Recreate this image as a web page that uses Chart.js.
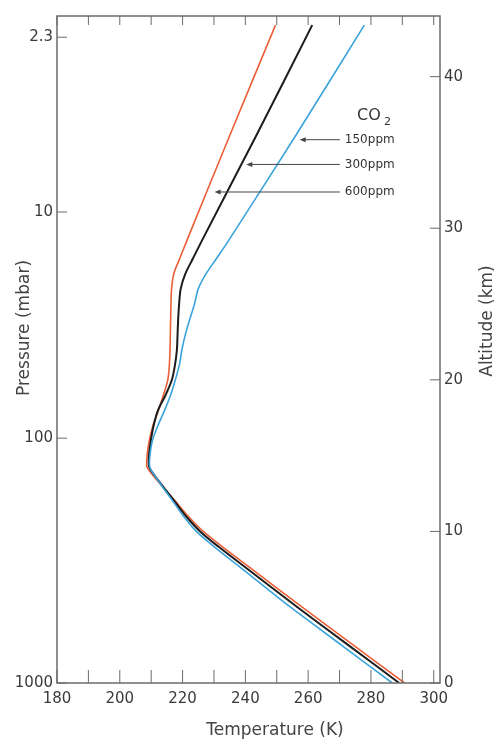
<!DOCTYPE html>
<html>
<head>
<meta charset="utf-8">
<title>Temperature profile vs CO2</title>
<script src="https://cdn.jsdelivr.net/npm/chart.js@4.4.1/dist/chart.umd.min.js"></script>
<style>
  html, body { margin: 0; padding: 0; background: #fff; }
  canvas { display: block; }
</style>
</head>
<body>
<canvas id="chart" width="496" height="739"></canvas>
<script>
// altitude (km) of each profile point, shared by the three runs
const altitude = [0, 2.5, 5, 7.5, 9, 10, 11, 12, 13, 14, 14.3, 15, 16, 17, 18, 19, 20, 21, 22, 23, 24, 25, 26, 27, 28, 29.2, 36, 43.4];

// temperature (K) for each CO2 level
const temp150 = [286.8, 270.6, 254.4, 239.2, 230.0, 224.4, 220.3, 216.9, 213.4, 210.1, 209.5, 209.6, 210.4, 212.2, 214.3, 216.2, 217.7, 219.0, 219.8, 220.9, 222.3, 223.8, 225.0, 227.5, 230.8, 234.7, 255.7, 277.9];
const temp300 = [289.0, 272.8, 256.6, 240.8, 231.4, 225.6, 221.1, 217.4, 213.6, 210.0, 209.3, 209.3, 209.9, 210.8, 212.2, 214.6, 216.6, 217.6, 218.2, 218.4, 218.6, 218.9, 219.4, 220.9, 223.3, 226.2, 243.2, 261.3];
const temp600 = [290.7, 274.4, 258.1, 242.2, 232.6, 226.6, 221.8, 217.7, 213.4, 209.4, 208.6, 208.7, 209.4, 210.6, 212.3, 213.9, 215.3, 215.8, 216.0, 216.1, 216.2, 216.3, 216.5, 217.2, 219.1, 221.4, 234.8, 249.6];

// left axis: pressure labels and the altitude they sit at
const pressureLabels = ["1000", "100", "10", "2.3"];
const pressureAltitude = [0, 16.15, 31.07, 42.6];

// arrow notes pointing at the curves
const noteLabels = ["150ppm", "300ppm", "600ppm"];
const noteAltitude = [35.84, 34.21, 32.39];
const noteTipTemp = [257.3, 240.3, 230.2];

const toPoints = (temps) => temps.map((t, i) => ({ x: t, y: altitude[i] }));

Chart.defaults.font.family = '"DejaVu Sans", sans-serif';
Chart.defaults.font.size = 15;
Chart.defaults.color = "#3a3a3a";

const frameAndNotes = {
  id: "frameAndNotes",
  afterDraw(chart) {
    const { ctx, chartArea: a, scales } = chart;
    const xs = scales.x;
    const yr = scales.y;
    const yl = scales.yp;

    ctx.save();
    ctx.strokeStyle = "#6b6b6b";
    ctx.lineWidth = 1.5;
    ctx.strokeRect(a.left, a.top, a.right - a.left, a.bottom - a.top);

    // inward tick marks
    ctx.lineWidth = 1;
    ctx.beginPath();
    xs.ticks.forEach((t) => {
      const px = xs.getPixelForValue(t.value);
      ctx.moveTo(px, a.bottom);
      ctx.lineTo(px, a.bottom - 13);
      ctx.moveTo(px, a.top);
      ctx.lineTo(px, a.top + 9);
    });
    yr.ticks.forEach((t) => {
      const py = yr.getPixelForValue(t.value);
      ctx.moveTo(a.right, py);
      ctx.lineTo(a.right - 10, py);
    });
    yl.ticks.forEach((t) => {
      const py = yl.getPixelForValue(t.value);
      ctx.moveTo(a.left, py);
      ctx.lineTo(a.left + 10, py);
    });
    ctx.stroke();

    // axis titles
    ctx.fillStyle = "#444";
    ctx.font = '17px "DejaVu Sans", sans-serif';
    ctx.textAlign = "center";
    ctx.textBaseline = "middle";
    ctx.fillText("Temperature (K)", 275, 731);

    ctx.save();
    ctx.translate(25, 328);
    ctx.rotate(-Math.PI / 2);
    ctx.fillText("Pressure (mbar)", 0, 0);
    ctx.restore();

    ctx.save();
    ctx.translate(488, 321);
    ctx.rotate(-Math.PI / 2);
    ctx.fillText("Altitude (km)", 0, 0);
    ctx.restore();

    // CO2 heading
    ctx.fillStyle = "#333";
    ctx.textAlign = "left";
    ctx.textBaseline = "alphabetic";
    ctx.font = '16px "DejaVu Sans", sans-serif';
    ctx.fillText("CO", 357, 120);
    ctx.font = '11px "DejaVu Sans", sans-serif';
    ctx.fillText("2", 384, 125);

    // arrows with labels
    const tailX = xs.getPixelForValue(270.1);
    ctx.strokeStyle = "#444";
    ctx.lineWidth = 1;
    ctx.font = '12px "DejaVu Sans", sans-serif';
    ctx.textBaseline = "middle";
    noteLabels.forEach((label, i) => {
      const py = yr.getPixelForValue(noteAltitude[i]);
      const tipX = xs.getPixelForValue(noteTipTemp[i]);
      ctx.beginPath();
      ctx.moveTo(tailX, py);
      ctx.lineTo(tipX + 4, py);
      ctx.stroke();
      ctx.beginPath();
      ctx.moveTo(tipX, py);
      ctx.lineTo(tipX + 6, py - 2.5);
      ctx.lineTo(tipX + 6, py + 2.5);
      ctx.closePath();
      ctx.fillStyle = "#444";
      ctx.fill();
      ctx.fillStyle = "#333";
      ctx.fillText(label, tailX + 5, py);
    });
    ctx.restore();
  },
};

new Chart(document.getElementById("chart"), {
  type: "scatter",
  data: {
    datasets: [
      {
        label: "150ppm",
        data: toPoints(temp150),
        borderColor: "#3ba3dc",
        borderWidth: 1.6,
      },
      {
        label: "300ppm",
        data: toPoints(temp300),
        borderColor: "#1c1c1c",
        borderWidth: 2,
      },
      {
        label: "600ppm",
        data: toPoints(temp600),
        borderColor: "#ec5f36",
        borderWidth: 1.6,
      },
    ],
  },
  options: {
    responsive: false,
    animation: false,
    showLine: true,
    elements: {
      point: { radius: 0, hoverRadius: 0 },
      line: { tension: 0.3, fill: false },
    },
    layout: { padding: { top: 16, left: 0, right: 0, bottom: 0 } },
    plugins: {
      legend: { display: false },
      tooltip: { enabled: false },
    },
    scales: {
      x: {
        type: "linear",
        position: "bottom",
        min: 180,
        max: 302,
        grid: { display: false, drawTicks: false },
        border: { display: false },
        ticks: {
          stepSize: 10,
          includeBounds: false,
          autoSkip: false,
          maxRotation: 0,
          padding: 7,
          callback: (value) => (value % 20 === 0 ? value : ""),
        },
        afterFit: (scale) => {
          scale.height = 56;
        },
      },
      y: {
        type: "linear",
        position: "right",
        min: 0,
        max: 44,
        grid: { display: false, drawTicks: false },
        border: { display: false },
        ticks: {
          stepSize: 10,
          includeBounds: false,
          padding: 4,
        },
        afterFit: (scale) => {
          scale.width = 56;
        },
      },
      yp: {
        type: "linear",
        position: "left",
        min: 0,
        max: 44,
        grid: { display: false, drawTicks: false },
        border: { display: false },
        afterBuildTicks: (scale) => {
          scale.ticks = pressureAltitude.map((v) => ({ value: v }));
        },
        ticks: {
          autoSkip: false,
          padding: 4,
          callback: (value, index) => pressureLabels[index],
        },
        afterFit: (scale) => {
          scale.width = 57;
        },
      },
    },
  },
  plugins: [frameAndNotes],
});
</script>
</body>
</html>
